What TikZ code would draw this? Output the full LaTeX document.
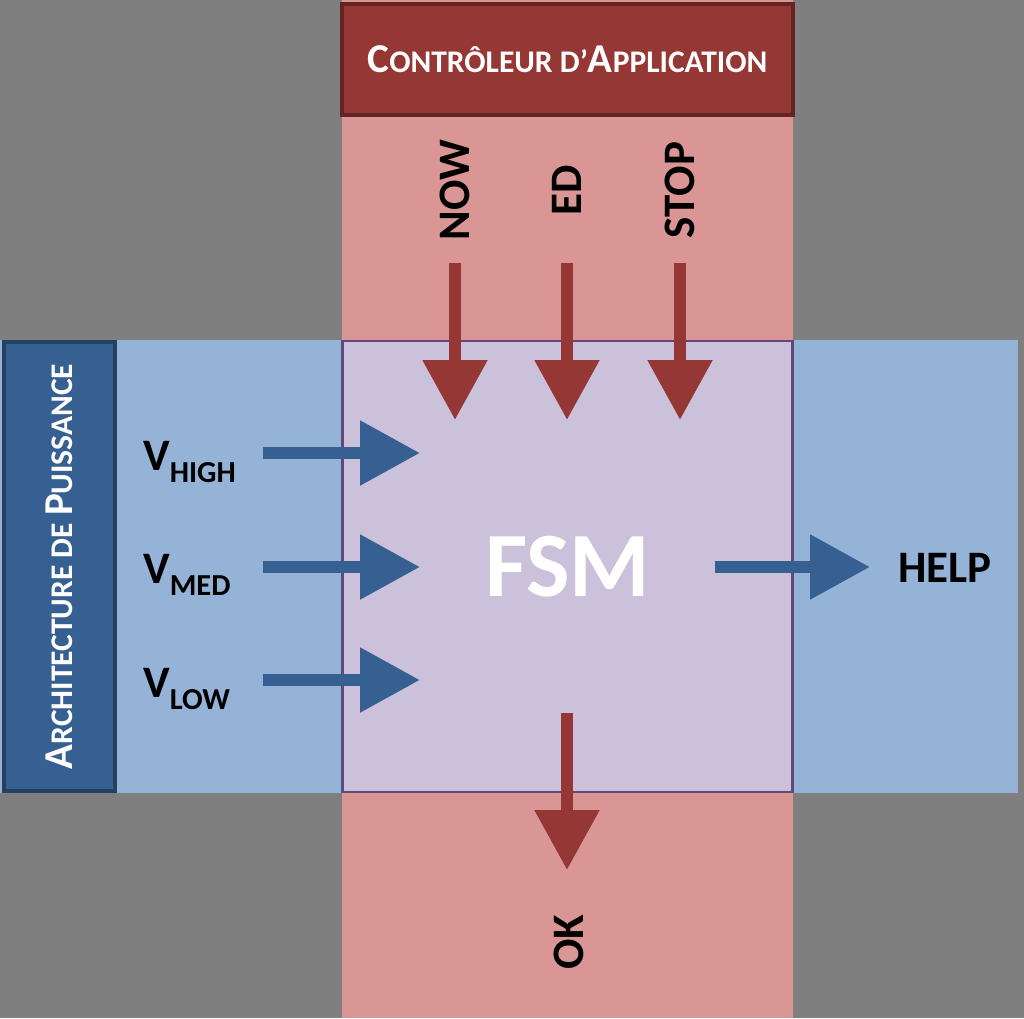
\documentclass[tikz,border=0pt]{standalone}
\usepackage{fontspec}
\setmainfont{Carlito}
\usepackage{xcolor}
\usetikzlibrary{arrows.meta}

\definecolor{fond}{HTML}{7F7F7F}
\definecolor{rougeclair}{HTML}{D99694}
\definecolor{rougefonce}{HTML}{953735}
\definecolor{rougebord}{HTML}{632523}
\definecolor{bleuclair}{HTML}{95B3D7}
\definecolor{bleufonce}{HTML}{376092}
\definecolor{bleubord}{HTML}{244062}
\definecolor{lavande}{HTML}{CCC1DA}
\definecolor{violet}{HTML}{604A7B}

\newcommand{\grand}[1]{{\fontsize{41}{41}\selectfont #1}}
\newcommand{\petit}[1]{{\fontsize{31.5}{31.5}\selectfont #1}}
\newcommand{\vsig}[1]{V\raisebox{-12pt}{\fontsize{30.5}{30.5}\selectfont #1}}

\begin{document}
\begin{tikzpicture}[
    x=1pt, y=-1pt,
    bloc/.style={inner sep=0pt, text=white, font=\bfseries},
    etiquette/.style={inner sep=0pt, text=black, font=\fontsize{45}{45}\selectfont\bfseries},
    fleche rouge/.style={draw=rougefonce, line width=12pt, -{Triangle[length=60pt, width=62pt]}},
    fleche bleue/.style={draw=bleufonce, line width=12pt, -{Triangle[length=60pt, width=62pt]}},
]
\useasboundingbox (0,0) rectangle (1024,1018);

% Fond et bandes
\fill[fond] (0,0) rectangle (1024,1018);
\fill[rougeclair] (342,0) rectangle (793,1018);
\fill[bleuclair] (0,340) rectangle (1018,793);

% Blocs
\node[bloc, draw=violet, fill=lavande, line width=2.5pt,
      minimum width=450pt, minimum height=451pt,
      font=\fontsize{92}{92}\selectfont\bfseries] (fsm) at (567.5,566.5) {FSM};
\node[bloc, draw=rougebord, fill=rougefonce, line width=4pt,
      minimum width=451pt, minimum height=111pt] (ctrl) at (567.5,59.5)
    {\grand{C}\petit{ONTRÔLEUR D’}\grand{A}\petit{PPLICATION}};
\node[bloc, draw=bleubord, fill=bleufonce, line width=4pt, rotate=90,
      minimum width=449pt, minimum height=111pt] (puiss) at (59.5,566.5)
    {\grand{A}\petit{RCHITECTURE DE }\grand{P}\petit{UISSANCE}};

% Entrées du contrôleur
\foreach \nom/\x/\texte in {now/455/NOW, ed/567/ED, stop/680/STOP} {
    \node[etiquette, rotate=90] (\nom) at (\x,190) {\texte};
    \coordinate (\nom-a) at (\x,263);
    \coordinate (\nom-b) at (\x,420);
    \draw[fleche rouge] (\nom-a) -- (\nom-b);
}

% Entrées de puissance
\node[etiquette, anchor=base west] (vhigh) at (143,470) {\vsig{HIGH}};
\node[etiquette, anchor=base west] (vmed) at (143,583) {\vsig{MED}};
\node[etiquette, anchor=base west] (vlow) at (143,697) {\vsig{LOW}};
\foreach \nom/\y in {vhigh/453, vmed/567, vlow/680} {
    \coordinate (\nom-a) at (263,\y);
    \coordinate (\nom-b) at (420,\y);
    \draw[fleche bleue] (\nom-a) -- (\nom-b);
}

% Sorties
\node[etiquette] (help) at (945,568) {HELP};
\coordinate (help-a) at (715,567);
\coordinate (help-b) at (870,567);
\draw[fleche bleue] (help-a) -- (help-b);

\node[etiquette, rotate=90] (ok) at (569,942) {OK};
\coordinate (ok-a) at (567,713);
\coordinate (ok-b) at (567,870);
\draw[fleche rouge] (ok-a) -- (ok-b);

\end{tikzpicture}
\end{document}
